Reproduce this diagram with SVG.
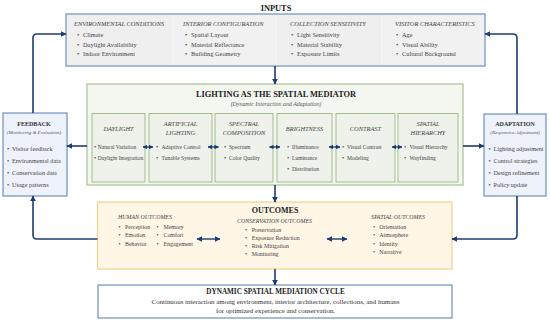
<svg xmlns="http://www.w3.org/2000/svg" width="550" height="322" viewBox="0 0 550 322">
<style>
text{font-family:"Liberation Serif","DejaVu Serif",serif;fill:#333;}
.t1{font-size:8.4px;font-weight:bold;fill:#222;text-anchor:middle;}
.t2{font-size:6px;font-weight:bold;fill:#333;text-anchor:middle;}
.sub{font-size:5.4px;font-style:italic;fill:#555;text-anchor:middle;}
.hd{font-size:6.4px;font-style:italic;fill:#444;}
.hdc{font-size:6.4px;font-style:italic;fill:#444;text-anchor:middle;}
.it{font-size:6.4px;fill:#444;}
.is{font-size:5.9px;fill:#444;}
.bx{font-size:6.2px;fill:#444;}
.cy{font-size:6.9px;fill:#333;text-anchor:middle;}
.blue{fill:#eef2fa;stroke:#6f8fc0;stroke-width:1.2;}
.conn{fill:none;stroke:#1f3b73;stroke-width:1.6;}
.sconn{fill:none;stroke:#1f3b73;stroke-width:1.4;}
</style>
<defs>
<marker id="ah" viewBox="0 0 10 10" refX="9" refY="5" markerWidth="6" markerHeight="6" markerUnits="userSpaceOnUse" orient="auto-start-reverse"><path d="M0,0 L10,5 L0,10 z" fill="#1f3b73"/></marker>
<marker id="sh" viewBox="0 0 10 10" refX="9" refY="5" markerWidth="4.5" markerHeight="4.5" markerUnits="userSpaceOnUse" orient="auto-start-reverse"><path d="M0,0 L10,5 L0,10 z" fill="#1f3b73"/></marker>
</defs>

<g id="inputs">
<text class="t1" x="276" y="10.8">INPUTS</text>
<rect x="66" y="14" width="419" height="52" fill="#f3f3f3" stroke="#6f8fc0" stroke-width="1.2"/>
<rect x="67" y="15" width="105" height="50" fill="#efefef"/>
<rect x="174" y="15" width="101" height="50" fill="#f1f1f1"/>
<rect x="277" y="15" width="104" height="50" fill="#efefef"/>
<rect x="383" y="15" width="101" height="50" fill="#f1f1f1"/>
<text class="hd" x="74" y="26">ENVIRONMENTAL CONDITIONS</text>
<text class="it" x="77" y="37.2">•</text><text class="it" x="83" y="37.2">Climate</text>
<text class="it" x="77" y="46.6">•</text><text class="it" x="83" y="46.6">Daylight Availability</text>
<text class="it" x="77" y="56">•</text><text class="it" x="83" y="56">Indoor Environment</text>
<text class="hd" x="183" y="26">INTERIOR CONFIGURATION</text>
<text class="it" x="185" y="37.2">•</text><text class="it" x="191" y="37.2">Spatial Layout</text>
<text class="it" x="185" y="46.6">•</text><text class="it" x="191" y="46.6">Material Reflectance</text>
<text class="it" x="185" y="56">•</text><text class="it" x="191" y="56">Building Geometry</text>
<text class="hd" x="290" y="26">COLLECTION SENSITIVITY</text>
<text class="it" x="291" y="37.2">•</text><text class="it" x="297" y="37.2">Light Sensitivity</text>
<text class="it" x="291" y="46.6">•</text><text class="it" x="297" y="46.6">Material Stability</text>
<text class="it" x="291" y="56">•</text><text class="it" x="297" y="56">Exposure Limits</text>
<text class="hd" x="395" y="26">VISITOR CHARACTERISTICS</text>
<text class="it" x="396" y="37.2">•</text><text class="it" x="402" y="37.2">Age</text>
<text class="it" x="396" y="46.6">•</text><text class="it" x="402" y="46.6">Visual Ability</text>
<text class="it" x="396" y="56">•</text><text class="it" x="402" y="56">Cultural Background</text>
</g>

<g id="lighting">
<rect x="87" y="84" width="376" height="101" fill="#f4f7f0" stroke="#a8c294" stroke-width="1.2"/>
<text class="t1" x="276" y="97.4">LIGHTING AS THE SPATIAL MEDIATOR</text>
<text class="sub" x="276" y="106.4" style="font-size:5.9px">(Dynamic Interaction and Adaptation)</text>
</g>

<g id="daylight">
<rect x="92" y="113.5" width="53" height="68.5" fill="#eef2ea" stroke="#a2bd90" stroke-width="1"/>
<text class="hdc" x="118.5" y="130.5">DAYLIGHT</text>
<text class="bx" x="94" y="149">•</text><text class="bx" x="97.7" y="149" style="font-size:5.6px">Natural Variation</text>
<text class="bx" x="94" y="160">•</text><text class="bx" x="97.7" y="160" style="font-size:5.6px">Daylight Integration</text>
</g>
<g id="artificial">
<rect x="149" y="113.5" width="63" height="68.5" fill="#eef2ea" stroke="#a2bd90" stroke-width="1"/>
<text class="hdc" x="180.5" y="125.5">ARTIFICIAL</text>
<text class="hdc" x="180.5" y="134.5">LIGHTING</text>
<text class="bx" x="156" y="149">•</text><text class="bx" x="161.5" y="149" style="font-size:5.6px">Adaptive Control</text>
<text class="bx" x="156" y="160">•</text><text class="bx" x="161.5" y="160" style="font-size:5.6px">Tunable Systems</text>
</g>
<g id="spectral">
<rect x="215" y="113.5" width="58" height="68.5" fill="#eef2ea" stroke="#a2bd90" stroke-width="1"/>
<text class="hdc" x="244" y="125.5">SPECTRAL</text>
<text class="hdc" x="244" y="134.5">COMPOSITION</text>
<text class="bx" x="224" y="149">•</text><text class="bx" x="229" y="149" style="font-size:5.6px">Spectrum</text>
<text class="bx" x="224" y="160">•</text><text class="bx" x="229" y="160" style="font-size:5.6px">Color Quality</text>
</g>
<g id="brightness">
<rect x="277" y="113.5" width="55" height="68.5" fill="#eef2ea" stroke="#a2bd90" stroke-width="1"/>
<text class="hdc" x="304.5" y="130.5">BRIGHTNESS</text>
<text class="bx" x="287" y="149">•</text><text class="bx" x="292" y="149" style="font-size:5.6px">Illuminance</text>
<text class="bx" x="287" y="160">•</text><text class="bx" x="292" y="160" style="font-size:5.6px">Luminance</text>
<text class="bx" x="287" y="170.5">•</text><text class="bx" x="292" y="170.5" style="font-size:5.6px">Distribution</text>
</g>
<g id="contrast">
<rect x="336" y="113.5" width="59" height="68.5" fill="#eef2ea" stroke="#a2bd90" stroke-width="1"/>
<text class="hdc" x="365.5" y="130.5">CONTRAST</text>
<text class="bx" x="342" y="149">•</text><text class="bx" x="347" y="149" style="font-size:5.6px">Visual Contrast</text>
<text class="bx" x="342" y="160">•</text><text class="bx" x="347" y="160" style="font-size:5.6px">Modeling</text>
</g>
<g id="hierarchy">
<rect x="398" y="113.5" width="60" height="68.5" fill="#eef2ea" stroke="#a2bd90" stroke-width="1"/>
<text class="hdc" x="428" y="125.5">SPATIAL</text>
<text class="hdc" x="428" y="134.5">HIERARCHY</text>
<text class="bx" x="404" y="149">•</text><text class="bx" x="409.5" y="149" style="font-size:5.6px">Visual Hierarchy</text>
<text class="bx" x="404" y="160">•</text><text class="bx" x="409.5" y="160" style="font-size:5.6px">Wayfinding</text>
</g>

<g id="feedback">
<rect class="blue" x="3" y="113" width="64" height="83"/>
<text class="t2" x="34" y="125.6">FEEDBACK</text>
<text class="sub" x="34" y="134.2" style="font-size:5px">(Monitoring &amp; Evaluation)</text>
<text class="bx" x="7" y="151">•</text><text class="bx" x="12" y="151">Visitor feedback</text>
<text class="bx" x="7" y="163">•</text><text class="bx" x="12" y="163">Environmental data</text>
<text class="bx" x="7" y="175">•</text><text class="bx" x="12" y="175">Conservation data</text>
<text class="bx" x="7" y="186.5">•</text><text class="bx" x="12" y="186.5">Usage patterns</text>
</g>

<g id="adaptation">
<rect class="blue" x="484" y="114" width="62" height="82"/>
<text class="t2" x="515" y="125.6">ADAPTATION</text>
<text class="sub" x="515" y="134.2" style="font-size:5px">(Responsive Adjustment)</text>
<text class="bx" x="488.5" y="151">•</text><text class="bx" x="493.5" y="151">Lighting adjustment</text>
<text class="bx" x="488.5" y="163">•</text><text class="bx" x="493.5" y="163">Control strategies</text>
<text class="bx" x="488.5" y="175">•</text><text class="bx" x="493.5" y="175">Design refinement</text>
<text class="bx" x="488.5" y="186.5">•</text><text class="bx" x="493.5" y="186.5">Policy update</text>
</g>

<g id="outcomes">
<rect x="97.5" y="202" width="354.5" height="67" fill="#fff6e6" stroke="#f3d18f" stroke-width="1.2"/>
<text class="t1" x="275" y="213" style="font-size:8px">OUTCOMES</text>
<text class="hd" x="118" y="219.3" style="font-size:5.9px">HUMAN OUTCOMES</text>
<text class="is" x="118.5" y="229">•</text><text class="is" x="125" y="229">Perception</text>
<text class="is" x="118.5" y="237.3">•</text><text class="is" x="125" y="237.3">Emotion</text>
<text class="is" x="118.5" y="245.6">•</text><text class="is" x="125" y="245.6">Behavior</text>
<text class="is" x="156.5" y="229">•</text><text class="is" x="163.5" y="229">Memory</text>
<text class="is" x="156.5" y="237.3">•</text><text class="is" x="163.5" y="237.3">Comfort</text>
<text class="is" x="156.5" y="245.6">•</text><text class="is" x="163.5" y="245.6">Engagement</text>
<text class="hd" x="237" y="222.8" style="font-size:5.9px">CONSERVATION OUTCOMES</text>
<text class="is" x="245" y="231.5">•</text><text class="is" x="251.7" y="231.5">Preservation</text>
<text class="is" x="245" y="240">•</text><text class="is" x="251.7" y="240">Exposure Reduction</text>
<text class="is" x="245" y="248.2">•</text><text class="is" x="251.7" y="248.2">Risk Mitigation</text>
<text class="is" x="245" y="256.3">•</text><text class="is" x="251.7" y="256.3">Monitoring</text>
<text class="hd" x="371" y="218.9" style="font-size:5.9px">SPATIAL OUTCOMES</text>
<text class="is" x="373" y="229">•</text><text class="is" x="379.3" y="229">Orientation</text>
<text class="is" x="373" y="237.3">•</text><text class="is" x="379.3" y="237.3">Atmosphere</text>
<text class="is" x="373" y="245.6">•</text><text class="is" x="379.3" y="245.6">Identity</text>
<text class="is" x="373" y="254">•</text><text class="is" x="379.3" y="254">Narrative</text>
</g>

<g id="cycle">
<rect x="98" y="285" width="354" height="33" fill="#ffffff" stroke="#6f8fc0" stroke-width="1.2"/>
<text class="t1" x="275.5" y="293.8" style="font-size:7.2px">DYNAMIC SPATIAL MEDIATION CYCLE</text>
<text class="cy" x="275.5" y="303.5">Continuous interaction among environment, interior architecture, collections, and humans</text>
<text class="cy" x="275.5" y="312.5">for optimized experience and conservation.</text>
</g>

<g id="connectors">
<path class="conn" d="M275,66 V84" marker-end="url(#ah)"/>
<path class="conn" d="M275,185 V202" marker-end="url(#ah)"/>
<path class="conn" d="M275,269 V285" marker-end="url(#ah)"/>
<path class="conn" d="M87,146 H67" marker-end="url(#ah)"/>
<path class="conn" d="M463,146 H484" marker-end="url(#ah)"/>
<path class="conn" d="M33,113 V38 Q33,34 37,34 H66" marker-end="url(#ah)"/>
<path class="conn" d="M517,114 V38 Q517,34 513,34 H485" marker-end="url(#ah)"/>
<path class="conn" d="M97.5,239 H37 Q33,239 33,235 V196" marker-end="url(#ah)"/>
<path class="conn" d="M517,196 V235 Q517,239 513,239 H452" marker-end="url(#ah)"/>
<path class="sconn" d="M143,147 H153" marker-start="url(#sh)" marker-end="url(#sh)"/>
<path class="sconn" d="M208,147 H218.5" marker-start="url(#sh)" marker-end="url(#sh)"/>
<path class="sconn" d="M269.5,147 H280" marker-start="url(#sh)" marker-end="url(#sh)"/>
<path class="sconn" d="M329,147 H340" marker-start="url(#sh)" marker-end="url(#sh)"/>
<path class="sconn" d="M392,147 H402" marker-start="url(#sh)" marker-end="url(#sh)"/>
<path class="sconn" d="M197,239 H220" marker-start="url(#ah)" marker-end="url(#ah)"/>
<path class="sconn" d="M327,239 H347" marker-start="url(#ah)" marker-end="url(#ah)"/>
</g>
</svg>
